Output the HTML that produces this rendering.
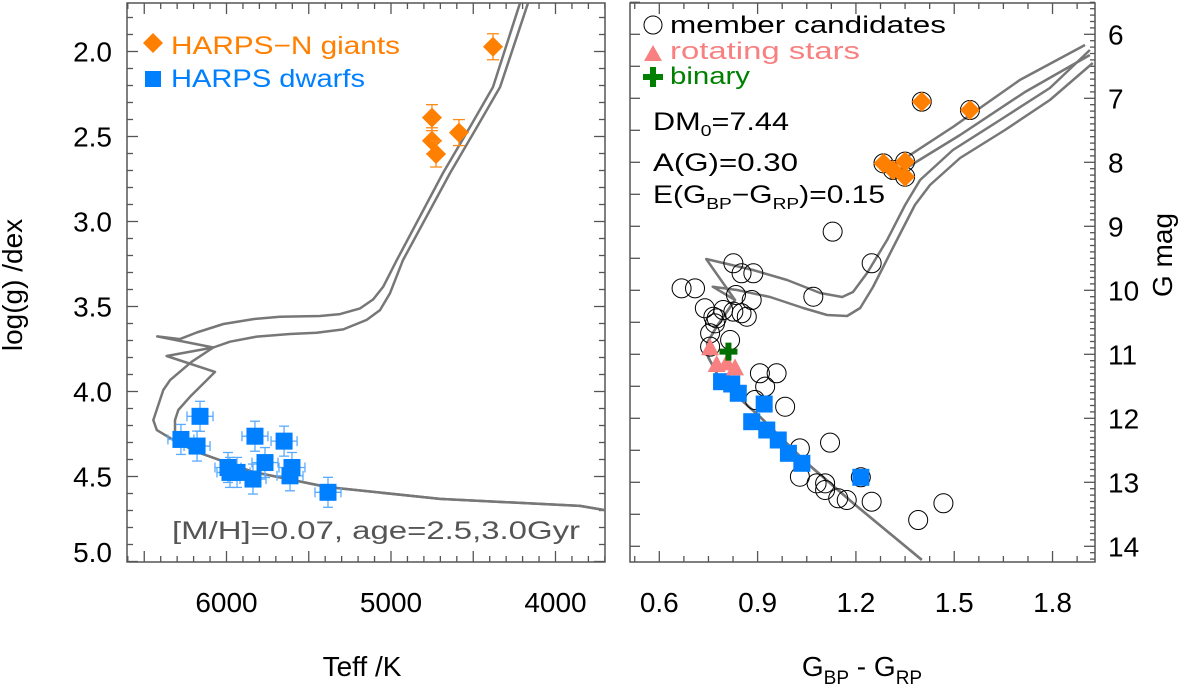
<!DOCTYPE html>
<html><head><meta charset="utf-8"><style>
html,body{margin:0;padding:0;background:#fff;}
svg{display:block;font-family:"Liberation Sans",sans-serif;}
</style></head><body>
<svg id="chart" width="1200" height="691" viewBox="0 0 1200 691" xmlns="http://www.w3.org/2000/svg">
<g id="left"></g>
<g id="right"></g>
<text x="22" y="285" font-size="28" text-anchor="middle" transform="rotate(-90 22 285)">log(g) /dex</text>
<text x="362" y="676" font-size="28" text-anchor="middle">Teff /K</text>
<text x="1172" y="255" font-size="28" text-anchor="middle" transform="rotate(-90 1172 255)">G mag</text>
<text x="862" y="676" font-size="28" text-anchor="middle">G<tspan font-size="19" dy="8">BP</tspan><tspan dy="-8"> - G</tspan><tspan font-size="19" dy="8">RP</tspan></text>
<g>
<polygon points="153,33 163,43 153,53 143,43" fill="#ff7f00"/>
<text x="171" y="54" font-size="25" fill="#ff7f00" textLength="229" lengthAdjust="spacingAndGlyphs">HARPS−N giants</text>
<rect x="145" y="71" width="16" height="16" fill="#0080ff"/>
<text x="171" y="87" font-size="25" fill="#0080ff" textLength="194" lengthAdjust="spacingAndGlyphs">HARPS dwarfs</text>
</g>
<text x="172" y="539" font-size="25" fill="#555" textLength="408" lengthAdjust="spacingAndGlyphs">[M/H]=0.07, age=2.5,3.0Gyr</text>
<g>
<circle cx="653" cy="25" r="9" fill="none" stroke="#000" stroke-width="1"/>
<text x="670" y="33" font-size="24" fill="#000" textLength="276" lengthAdjust="spacingAndGlyphs">member candidates</text>
<polygon points="653,45 662,61 644,61" fill="#f88080"/>
<text x="670" y="59" font-size="24" fill="#f88080" textLength="190" lengthAdjust="spacingAndGlyphs">rotating stars</text>
<path d="M643,77 h20 M653,67 v20" stroke="#008000" stroke-width="6"/>
<text x="670" y="84" font-size="24" fill="#008000" textLength="80" lengthAdjust="spacingAndGlyphs">binary</text>
</g>
<g font-size="25" fill="#000">
<text x="653" y="130" textLength="136" lengthAdjust="spacingAndGlyphs">DM<tspan font-size="16" dy="6">0</tspan><tspan dy="-6">=7.44</tspan></text>
<text x="653" y="171" textLength="145" lengthAdjust="spacingAndGlyphs">A(G)=0.30</text>
<text x="653" y="203" textLength="232" lengthAdjust="spacingAndGlyphs">E(G<tspan font-size="16" dy="6">BP</tspan><tspan dy="-6">−G</tspan><tspan font-size="16" dy="6">RP</tspan><tspan dy="-6">)=0.15</tspan></text>
</g>
</svg>
<script>
// ---------- left panel data ----------
const giantTeff = [4751, 4751, 4726, 4587, 4380];
const giantLogg = [2.389, 2.525, 2.603, 2.477, 1.972];
const dwarfTeff = [6277, 6161, 6179, 5991, 5936, 5839, 5827, 5766, 5650, 5602, 5614, 5383, 5979];
const dwarfLogg = [4.282, 4.146, 4.321, 4.447, 4.476, 4.515, 4.263, 4.418, 4.292, 4.447, 4.496, 4.593, 4.476];
const isoATeff = [3699,3851,4702,5389,5839,6179,6313,6424,6445,6384,6343,6212,6080,6421,6283,6181,6019,5837,5675,5432,5310,5188,5108,5047,4965,4684,4520,4380,4216];
const isoALogg = [4.698,4.673,4.632,4.562,4.473,4.356,4.291,4.227,4.168,3.991,3.933,3.825,3.741,3.676,3.692,3.653,3.603,3.574,3.560,3.556,3.545,3.511,3.458,3.383,3.227,2.715,2.444,2.209,1.715];
const isoBTeff = [3699,3851,4702,5389,5839,6179,6313,6313,6293,6222,6120,6070,6364,6080,5979,5816,5614,5452,5290,5148,5067,5006,4927,4641,4477,4337,4167];
const isoBLogg = [4.698,4.673,4.632,4.562,4.473,4.356,4.291,4.168,4.109,4.031,3.933,3.885,3.791,3.741,3.707,3.677,3.662,3.654,3.635,3.579,3.521,3.422,3.227,2.715,2.444,2.209,1.715];
const loggTicks = [2.0, 2.5, 3.0, 3.5, 4.0, 4.5, 5.0];
const teffTicks = [6000, 5000, 4000];
// ---------- right panel data ----------
const memberColor = [0.668,0.709,0.826,0.851,0.887,0.834,0.882,0.739,1.070,1.248,1.129,0.765,0.795,0.826,0.851,0.867,0.770,0.755,0.775,0.816,0.755,0.907,0.958,0.923,0.892,0.984,1.121,1.029,1.029,1.080,1.106,1.106,1.146,1.172,1.248,1.390,1.467,1.401,1.548,1.284,1.313,1.350,1.350,1.215];
const memberG = [9.969,9.969,9.578,9.734,9.734,10.073,10.152,10.281,10.10,9.578,9.084,10.413,10.308,10.334,10.359,10.413,10.516,10.672,10.438,10.777,10.881,11.297,11.297,11.506,11.714,11.819,12.381,12.469,12.913,13.016,13.016,13.12,13.25,13.277,13.303,13.589,13.328,7.053,7.183,8.016,8.12,7.99,8.225,12.922];
const giantColor = [1.401, 1.548, 1.284, 1.313, 1.350, 1.350];
const giantGmag = [7.053, 7.183, 8.016, 8.12, 7.99, 8.225];
const dwarfColor = [0.790, 0.821, 0.841, 0.920, 0.882, 0.928, 0.963, 0.994, 1.035, 1.215];
const dwarfGmag = [11.428, 11.464, 11.609, 11.777, 12.053, 12.183, 12.339, 12.547, 12.703, 12.922];
const rotColor = [0.755, 0.775, 0.831, 0.806];
const rotGmag = [10.906, 11.167, 11.219, 11.141];
const binColor = [0.811];
const binGmag = [10.959];
const cmdMSColor = [1.401,1.191,1.050,0.907,0.816,0.775,0.749,0.746,0.775,0.831];
const cmdMSG = [14.213,13.323,12.698,11.975,11.558,11.292,11.042,10.823,10.569,10.152];
const cmdAColor = [0.743,0.886,0.990,1.091,1.158,1.191,1.234,1.295,1.350,1.396,1.496,1.640,1.792,1.914];
const cmdAG = [9.511,9.683,9.839,10.042,10.105,10.027,9.730,9.214,8.667,8.277,7.808,7.339,6.839,6.245];
const cmdBColor = [0.763,0.837,0.938,1.039,1.112,1.173,1.213,1.252,1.325,1.380,1.426,1.518,1.655,1.792,1.923];
const cmdBG = [9.944,9.995,10.105,10.277,10.386,10.402,10.277,9.948,9.214,8.667,8.355,7.933,7.495,7.027,6.448];
const cmdC1Color = [1.295,1.496,1.700,1.899];
const cmdC1G = [8.120,7.448,6.714,6.167];
const cmdC2Color = [1.304,1.518,1.716,1.914];
const cmdC2G = [8.245,7.573,6.901,6.323];
const colorTicks = [0.6, 0.9, 1.2, 1.5, 1.8];
const gTicks = [6, 7, 8, 9, 10, 11, 12, 13, 14];

const NS = "http://www.w3.org/2000/svg";
function mk(parent, tag, attrs) {
  const e = document.createElementNS(NS, tag);
  for (const k in attrs) e.setAttribute(k, attrs[k]);
  parent.appendChild(e);
  return e;
}
const LX0 = 127, LX1 = 605, Y0 = 3, Y1 = 562;
const RX0 = 630, RX1 = 1095;
function xT(t) { return 391 + (5000 - t) * 0.1645; }
function yL(g) { return 51.5 + (g - 2.0) * 170; }
function xC(c) { return 659.3 + (c - 0.6) * 327.7; }
function yG(m) { return 162.3 + (m - 8) * 64; }

const L = document.getElementById('left');
const R = document.getElementById('right');
const FR = '#555';

const defs = mk(document.getElementById('chart'), 'defs', {});
const c1 = mk(defs, 'clipPath', {id: 'clipL'}); mk(c1, 'rect', {x: LX0, y: Y0, width: LX1 - LX0, height: Y1 - Y0});
const c2 = mk(defs, 'clipPath', {id: 'clipR'}); mk(c2, 'rect', {x: RX0, y: Y0, width: RX1 - RX0, height: Y1 - Y0});

let e;
e = mk(L, 'rect', {x: LX0, y: Y0, width: LX1 - LX0, height: Y1 - Y0, fill: 'none', stroke: FR, 'stroke-width': 1.5});


const ltk = mk(L, 'g', {stroke: FR, 'stroke-width': 1.3});


for (let k = 18; k <= 50; k++) {
  const g = k / 10;
  const y = yL(g); const major = (k % 5 === 0);
  const len = major ? 11 : 6;
  mk(ltk, 'line', {x1: LX0, x2: LX0 + len, y1: y, y2: y});
  mk(ltk, 'line', {x1: LX1, x2: LX1 - len, y1: y, y2: y});
}
for (let t = 6600; t >= 3700; t -= 100) {
  const x = xT(t); if (x < LX0 || x > LX1) continue;
  const len = (t % 500 === 0) ? 11 : 6;
  mk(ltk, 'line', {x1: x, x2: x, y1: Y1, y2: Y1 - len});
  mk(ltk, 'line', {x1: x, x2: x, y1: Y0, y2: Y0 + len});
}
loggTicks.forEach(g => {
  e = mk(L, 'text', {x: 112, y: Math.min(yL(g) + 10, 562), 'font-size': 28, 'text-anchor': 'end'});
  e.textContent = g.toFixed(1);
  
  
});
teffTicks.forEach(t => {
  e = mk(L, 'text', {x: xT(t), y: 612, 'font-size': 28, 'text-anchor': 'middle'});
  e.textContent = String(t);
  
  
});
const LP = mk(L, 'g', {'clip-path': 'url(#clipL)'});
function poly(parent, xs, ys, fx, fy, name) {
  const pts = xs.map((v, i) => fx(v).toFixed(1) + ',' + fy(ys[i]).toFixed(1)).join(' ');
  const p = mk(parent, 'polyline', {points: pts, fill: 'none', stroke: '#777', 'stroke-width': 2.5, 'stroke-linejoin': 'round'});
  
  
}
poly(LP, isoATeff, isoALogg, xT, yL, 'isochrone-2p5gyr');
poly(LP, isoBTeff, isoBLogg, xT, yL, 'isochrone-3p0gyr');
dwarfTeff.forEach((t, i) => {
  const x = xT(t), y = yL(dwarfLogg[i]);
  const g = mk(LP, 'g', {stroke: '#5aaaff', 'stroke-width': 1.3});
  
  
  mk(g, 'line', {x1: x - 13, x2: x + 13, y1: y, y2: y});
  mk(g, 'line', {x1: x, x2: x, y1: y - 15, y2: y + 15});
  mk(g, 'line', {x1: x - 5, x2: x + 5, y1: y - 15, y2: y - 15});
  mk(g, 'line', {x1: x - 5, x2: x + 5, y1: y + 15, y2: y + 15});
  mk(g, 'line', {x1: x - 13, x2: x - 13, y1: y - 5, y2: y + 5});
  mk(g, 'line', {x1: x + 13, x2: x + 13, y1: y - 5, y2: y + 5});
});
dwarfTeff.forEach((t, i) => {
  const s = mk(LP, 'rect', {x: xT(t) - 8.5, y: yL(dwarfLogg[i]) - 8.5, width: 17, height: 17, fill: '#0080ff'});
  
  
});
giantTeff.forEach((t, i) => {
  const x = xT(t), y = yL(giantLogg[i]);
  const g = mk(LP, 'g', {stroke: '#ff8c1a', 'stroke-width': 1.3});
  
  
  mk(g, 'line', {x1: x, x2: x, y1: y - 13, y2: y + 13});
  mk(g, 'line', {x1: x - 6, x2: x + 6, y1: y - 13, y2: y - 13});
  mk(g, 'line', {x1: x - 6, x2: x + 6, y1: y + 13, y2: y + 13});
  const d = mk(LP, 'polygon', {points: `${x},${y-10} ${x+10},${y} ${x},${y+10} ${x-10},${y}`, fill: '#ff7f00'});
  
  
});

e = mk(R, 'rect', {x: RX0, y: Y0, width: RX1 - RX0, height: Y1 - Y0, fill: 'none', stroke: FR, 'stroke-width': 1.5});


const rtk = mk(R, 'g', {stroke: FR, 'stroke-width': 1.3});


for (let k = 11; k <= 28; k++) {
  const m = k / 2;
  mk(rtk, 'line', {x1: RX0, x2: RX0 + 10, y1: yG(m), y2: yG(m)});
}
for (let k = 55; k <= 142; k++) {
  const m = k / 10; const major = (k % 10 === 0);
  mk(rtk, 'line', {x1: RX1, x2: RX1 - (major ? 11 : 5), y1: yG(m), y2: yG(m)});
}
for (let k = 7; k <= 25; k++) {
  const c = k * 0.075;
  const major = (k % 4 === 0);
  const len = major ? 11 : 6;
  mk(rtk, 'line', {x1: xC(c), x2: xC(c), y1: Y1, y2: Y1 - len});
  mk(rtk, 'line', {x1: xC(c), x2: xC(c), y1: Y0, y2: Y0 + len});
}
colorTicks.forEach(c => {
  e = mk(R, 'text', {x: xC(c), y: 612, 'font-size': 28, 'text-anchor': 'middle'});
  e.textContent = c.toFixed(1);
  
  
});
gTicks.forEach(m => {
  e = mk(R, 'text', {x: 1108, y: yG(m) + 10, 'font-size': 28, 'text-anchor': 'start'});
  e.textContent = String(m);
  
  
});
const RP = mk(R, 'g', {'clip-path': 'url(#clipR)'});
poly(RP, cmdMSColor.concat(cmdAColor), cmdMSG.concat(cmdAG), xC, yG, 'cmd-isochrone-2p5gyr');
poly(RP, cmdMSColor.concat(cmdBColor), cmdMSG.concat(cmdBG), xC, yG, 'cmd-isochrone-3p0gyr');
poly(RP, cmdC1Color, cmdC1G, xC, yG, 'cmd-isochrone-agb-1');
poly(RP, cmdC2Color, cmdC2G, xC, yG, 'cmd-isochrone-agb-2');
memberColor.forEach((c, i) => {
  const ci = mk(RP, 'circle', {cx: xC(c), cy: yG(memberG[i]), r: 9.5, fill: 'none', stroke: '#000', 'stroke-width': 1});
  
  
});
giantColor.forEach((c, i) => {
  const x = xC(c), y = yG(giantGmag[i]);
  const d = mk(RP, 'polygon', {points: `${x},${y-10} ${x+10},${y} ${x},${y+10} ${x-10},${y}`, fill: '#ff7f00'});
  
  
});
dwarfColor.forEach((c, i) => {
  const s = mk(RP, 'rect', {x: xC(c) - 8.5, y: yG(dwarfGmag[i]) - 8.5, width: 17, height: 17, fill: '#0080ff'});
  
  
});
rotColor.forEach((c, i) => {
  const x = xC(c), y = yG(rotGmag[i]);
  const t = mk(RP, 'polygon', {points: `${x},${y-10} ${x+9},${y+7} ${x-9},${y+7}`, fill: '#f88080'});
  
  
});
binColor.forEach((c, i) => {
  const x = xC(c), y = yG(binGmag[i]);
  const p = mk(RP, 'path', {d: `M${x-9},${y} h18 M${x},${y-9} v18`, stroke: '#007000', 'stroke-width': 6});
  
  
});
</script>
</body></html>
